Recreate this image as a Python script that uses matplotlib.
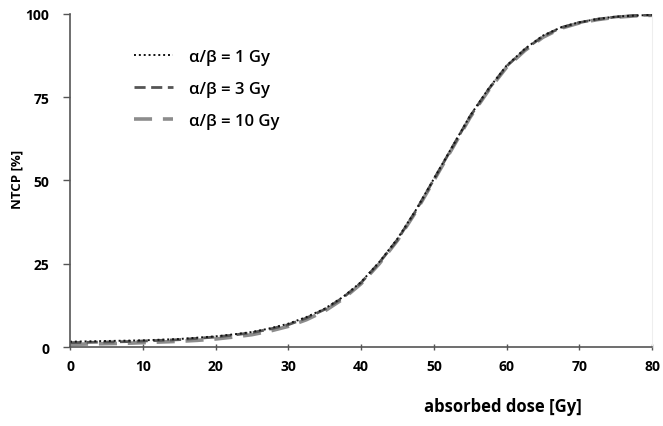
import numpy as np
import matplotlib.pyplot as plt

dose = [0, 2.5, 5, 7.5, 10, 12.5, 15, 17.5, 20, 22.5, 25, 27.5, 30, 32.5, 35, 37.5, 40,
        42.5, 45, 47.5, 50, 52.5, 55, 57.5, 60, 62.5, 65, 67.5, 70, 72.5, 75, 77.5, 80]
ntcp_1 = [1.6, 1.7, 1.8, 1.9, 2.0, 2.2, 2.4, 2.8, 3.2, 3.8, 4.5, 5.6, 7.0, 9.0, 11.5, 15.0, 19.5,
          25.5, 32.5, 41.0, 50.5, 60.0, 69.5, 77.5, 84.5, 89.5, 93.5, 96.0, 97.5, 98.5, 99.2, 99.5, 99.7]
ntcp_3 = [1.3, 1.4, 1.5, 1.6, 1.8, 2.0, 2.2, 2.6, 3.0, 3.6, 4.3, 5.4, 6.7, 8.7, 11.3, 14.8, 19.3,
          25.3, 32.2, 40.8, 50.3, 59.8, 69.3, 77.3, 84.3, 89.3, 93.3, 95.9, 97.4, 98.4, 99.1, 99.5, 99.7]
ntcp_10 = [0.8, 0.9, 1.0, 1.1, 1.3, 1.5, 1.7, 2.0, 2.4, 3.0, 3.7, 4.8, 6.2, 8.2, 10.8, 14.4, 19.0,
           25.0, 32.0, 40.5, 50.0, 59.5, 69.0, 77.0, 84.0, 89.0, 93.0, 95.7, 97.3, 98.3, 99.0, 99.4, 99.6]

labels = ['α/β = 1 Gy', 'α/β = 3 Gy', 'α/β = 10 Gy']
xticks = [0, 10, 20, 30, 40, 50, 60, 70, 80]
yticks = [0, 25, 50, 75, 100]

plt.rcParams['font.family'] = ['Open Sans', 'DejaVu Sans']

fig = plt.figure(figsize=(6.63, 4.27), dpi=100)
ax = fig.add_axes([0.1056, 0.185, 0.878, 0.780])

ax.plot(dose, ntcp_10, color='#8c8c8c', linestyle=(0, (5, 3)), linewidth=2.6, label=labels[2])
ax.plot(dose, ntcp_3, color='#555555', linestyle=(0, (4, 2)), linewidth=2.0, label=labels[1])
ax.plot(dose, ntcp_1, color='#111111', linestyle=(0, (1, 1.5)), linewidth=1.4, label=labels[0])

ax.set_xlim(0, 80)
ax.set_ylim(0, 100)
ax.set_xticks(xticks)
ax.set_yticks(yticks)
ax.set_xticklabels([str(t) for t in xticks], fontsize=10, fontweight='bold')
ax.set_yticklabels([str(t) for t in yticks], fontsize=10, fontweight='bold')
ax.tick_params(axis='x', direction='inout', length=5, width=1, color='#555555', pad=6)
ax.tick_params(axis='y', direction='out', length=5, width=1, color='#555555', pad=10)

ax.spines['top'].set_visible(False)
ax.spines['right'].set_color('#eeeeee')
ax.spines['left'].set_color('#555555')
ax.spines['bottom'].set_color('#555555')
ax.spines['left'].set_linewidth(1.2)
ax.spines['bottom'].set_linewidth(1.2)

handles, labs = ax.get_legend_handles_labels()
ax.legend(handles[::-1], labs[::-1], loc='upper left', bbox_to_anchor=(0.085, 0.94),
          frameon=False, prop={'size': 12, 'weight': 'semibold'},
          handlelength=2.3, labelspacing=0.95, handletextpad=1.0)

fig.text(0.025, 0.58, 'NTCP [%]', rotation=90, fontsize=9.5, fontweight='bold', ha='center', va='center')
fig.text(0.759, 0.047, 'absorbed dose [Gy]', fontsize=12, fontweight='bold', ha='center', va='center')

plt.savefig('out.png', dpi=100)
